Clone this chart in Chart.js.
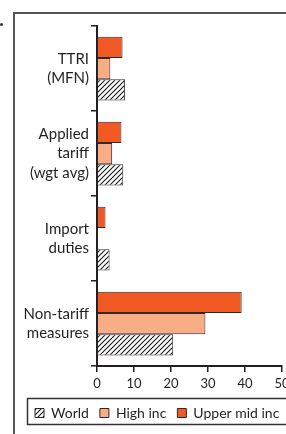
<!DOCTYPE html>
<html>
<head>
<meta charset="utf-8">
<script src="https://cdn.jsdelivr.net/npm/chart.js@4"></script>
<style>
  html, body { margin: 0; padding: 0; background: #fff; }
  body { width: 286px; height: 434px; overflow: hidden; position: relative; }
  #frame { position: absolute; left: 13px; top: 12px; width: 400px; height: 500px;
           border-left: 2px solid #555; border-top: 2px solid #555; }
  #dot { position: absolute; left: 0px; top: 23px; width: 3px; height: 3px; border-radius: 50%; background: #333; }
  #chart { position: absolute; left: 0; top: 0; }
</style>
</head>
<body>
<div id="dot"></div>
<div id="frame"></div>
<canvas id="chart" width="330" height="434"></canvas>
<script>
const categories = [
    ['TTRI', '(MFN)'],
    ['Applied', 'tariff', '(wgt avg)'],
    ['Import', 'duties'],
    ['Non-tariff', 'measures']
];
const upperMidInc = [6.9, 6.6, 2.3, 39.1];
const highInc = [3.6, 4.1, 0.3, 29.3];
const world = [7.6, 7.1, 3.4, 20.6];
const xTicks = [0, 10, 20, 30, 40, 50];

const ink = '#231f20';
const font = 'Lato';

// hatch fill for the World bars
function hatch() {
    const c = document.createElement('canvas');
    c.width = 5; c.height = 5;
    const g = c.getContext('2d');
    g.fillStyle = '#fff';
    g.fillRect(0, 0, 5, 5);
    g.strokeStyle = '#1a1a1a';
    g.lineWidth = 1.1;
    g.beginPath();
    g.moveTo(0, 5); g.lineTo(5, 0);
    g.moveTo(-1, 1); g.lineTo(1, -1);
    g.moveTo(4, 6); g.lineTo(6, 4);
    g.stroke();
    return g.createPattern(c, 'repeat');
}

// box around the legend
const legendBox = {
    id: 'legendBox',
    afterDraw(chart) {
        const hb = chart.legend.legendHitBoxes[0];
        if (!hb) return;
        const cy = hb.top + hb.height / 2;
        const ctx = chart.ctx;
        ctx.save();
        ctx.strokeStyle = '#333';
        ctx.lineWidth = 1.5;
        ctx.strokeRect(27.5, Math.round(cy - 15) + 0.5, chart.width, 26);
        ctx.restore();
    }
};

const plotRight = 282;

new Chart(document.getElementById('chart'), {
    type: 'bar',
    data: {
        labels: categories,
        datasets: [
            { label: 'Upper mid inc', data: upperMidInc, backgroundColor: '#f15a24' },
            { label: 'High inc', data: highInc, backgroundColor: '#f9ad84' },
            { label: 'World', data: world, backgroundColor: hatch() }
        ].map(d => Object.assign(d, {
            borderColor: '#2b2b2b',
            borderWidth: 1,
            categoryPercentage: 0.75,
            barPercentage: 1,
            minBarLength: 1
        }))
    },
    plugins: [legendBox],
    options: {
        indexAxis: 'y',
        responsive: false,
        devicePixelRatio: 1,
        animation: false,
        layout: { padding: { left: 24, top: 26, right: 0, bottom: 4 } },
        plugins: {
            tooltip: { enabled: false },
            legend: {
                position: 'bottom',
                align: 'start',
                reverse: true,
                labels: {
                    color: ink,
                    boxWidth: 9,
                    boxHeight: 9,
                    padding: 11,
                    font: { family: font, size: 14 }
                }
            }
        },
        scales: {
            x: {
                min: 0,
                max: 50,
                afterBuildTicks: s => { s.ticks = xTicks.map(v => ({ value: v })); },
                afterFit: s => { s.height = 29; s.paddingRight = s.chart.width - plotRight; },
                ticks: { color: ink, padding: 4, maxRotation: 0, font: { family: font, size: 13 } },
                grid: { drawOnChartArea: false, tickLength: 6, color: ink, lineWidth: 1.5 },
                border: { color: ink, width: 2 }
            },
            y: {
                afterFit: s => { s.width = 73; },
                ticks: { color: ink, padding: 2, font: { family: font, size: 15, lineHeight: 1.3 } },
                grid: { offset: true, drawOnChartArea: false, tickLength: 6, color: ink, lineWidth: 1.5 },
                border: { color: ink, width: 2 }
            }
        }
    }
});
</script>
</body>
</html>
